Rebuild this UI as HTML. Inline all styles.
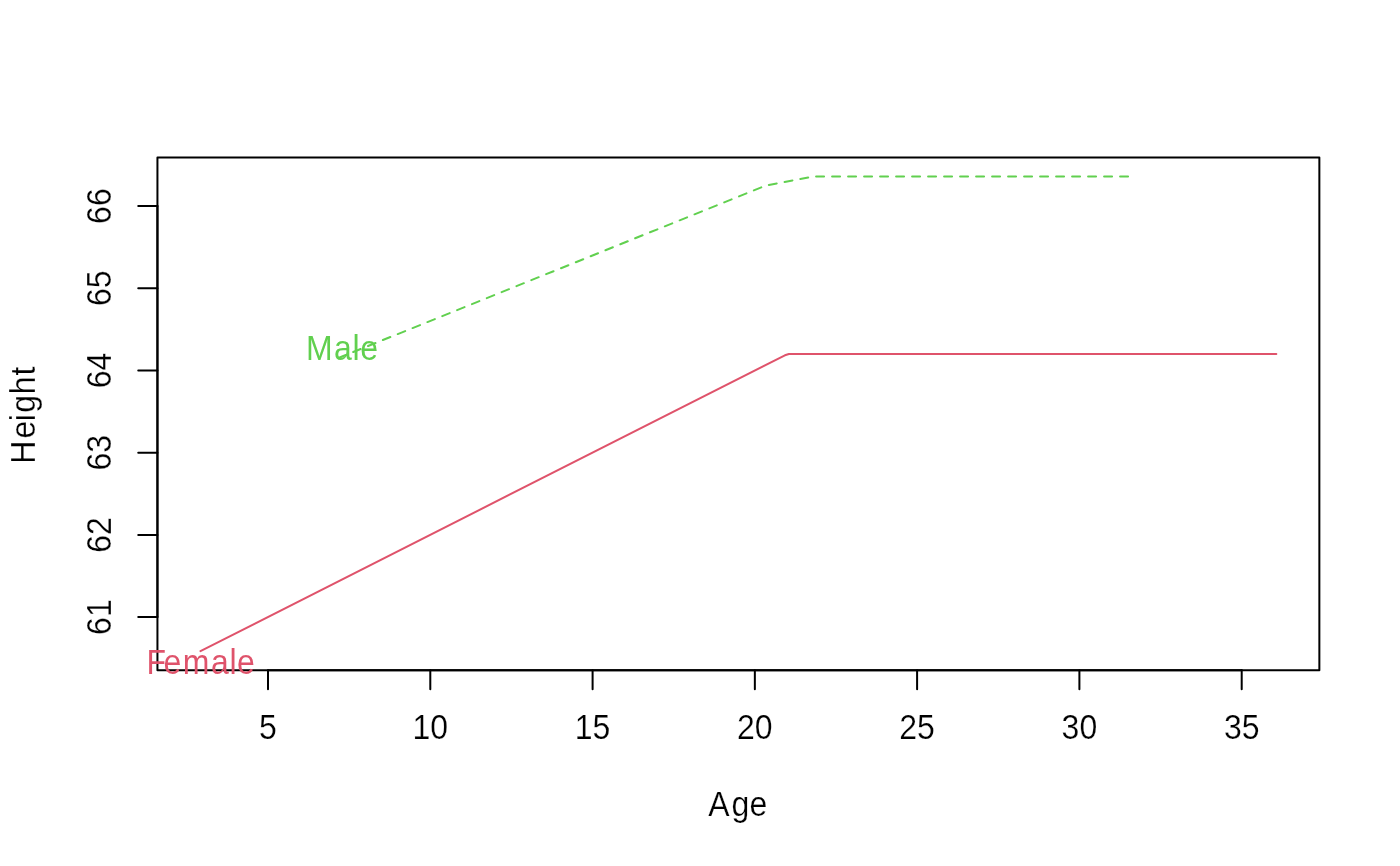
<!DOCTYPE html>
<html lang="en">
<head>
<meta charset="utf-8">
<title>Height by Age</title>
<style>
html,body{margin:0;padding:0;background:#fff;}
body{width:1400px;height:866px;overflow:hidden;}
svg{display:block;}
text{font-family:"Liberation Sans",sans-serif;font-size:32px;fill:#000;stroke:#fff;stroke-width:.22px;}
</style>
</head>
<body>
<svg style="will-change:transform" width="1400" height="866" viewBox="0 0 1400 866">
<rect x="0" y="0" width="1400" height="866" fill="#fff"/>
<defs>
<mask id="thinF" maskUnits="userSpaceOnUse" x="140" y="-40" width="130" height="60">
<text x="146.5 163.4 182.7 211 229.5 237.1" y="0" style="fill:#fff;stroke:#fff;stroke-width:1px">Female</text>
</mask>
<mask id="thinM" maskUnits="userSpaceOnUse" x="295" y="-40" width="100" height="60">
<text x="306.1 333.9 352.5 360.3" y="0" style="fill:#fff;stroke:#fff;stroke-width:1px">Male</text>
</mask>
</defs>
<!-- plot box -->
<g fill="none" stroke="#000" stroke-width="2" stroke-linecap="round" stroke-linejoin="round">
<rect x="157.44" y="157.44" width="1161.92" height="512.72"/>
<!-- x axis -->
<path d="M268 670.16H1241.7"/>
<path d="M268 670.16v19.2M430.3 670.16v19.2M592.6 670.16v19.2M754.85 670.16v19.2M917.1 670.16v19.2M1079.4 670.16v19.2M1241.7 670.16v19.2"/>
<!-- y axis -->
<path d="M157.44 617.1V206.1"/>
<path d="M157.44 617.1h-19.2M157.44 534.9h-19.2M157.44 452.7h-19.2M157.44 370.5h-19.2M157.44 288.3h-19.2M157.44 206.1h-19.2"/>
</g>
<!-- x tick labels -->
<g text-anchor="middle">
<text transform="translate(268 738.5) scale(1 1.07)">5</text>
<text transform="translate(430.3 738.5) scale(1 1.07)">10</text>
<text transform="translate(592.6 738.5) scale(1 1.07)">15</text>
<text transform="translate(754.85 738.5) scale(1 1.07)">20</text>
<text transform="translate(917.1 738.5) scale(1 1.07)">25</text>
<text transform="translate(1079.4 738.5) scale(1 1.07)">30</text>
<text transform="translate(1241.7 738.5) scale(1 1.07)">35</text>
<text text-anchor="start" transform="translate(0 815.7) scale(1 1.07)" x="708.3 731.5 749.4" y="0">Age</text>
</g>
<!-- y tick labels -->
<g text-anchor="middle">
<text transform="translate(111 617.1) rotate(-90) scale(1 1.07)">61</text>
<text transform="translate(111 534.9) rotate(-90) scale(1 1.07)">62</text>
<text transform="translate(111 452.7) rotate(-90) scale(1 1.07)">63</text>
<text transform="translate(111 370.5) rotate(-90) scale(1 1.07)">64</text>
<text transform="translate(111 288.3) rotate(-90) scale(1 1.07)">65</text>
<text transform="translate(111 206.1) rotate(-90) scale(1 1.07)">66</text>
<text text-anchor="start" transform="translate(35.3 413.8) rotate(-90) scale(1 1.07)" x="-50.01 -24.65 -7.55 1.01 19.56 38.36" y="0">Height</text>
</g>
<!-- curves -->
<g fill="none" stroke-width="2" stroke-linecap="round" stroke-linejoin="round">
<path d="M200.47 651.17L784.9 355.3L788.9 353.95H1276.33" stroke="#DF536B"/>
<path d="M338.4 358L766 185.5L814 176.43H1130" stroke="#61D04F" stroke-dasharray="8 8"/>
</g>
<g text-anchor="start">
<text mask="url(#thinF)" transform="translate(0 673.6) scale(1 1.07)" x="146.5 163.4 182.7 211 229.5 237.1" y="0" style="fill:#DF536B;stroke:none">Female</text>
<text mask="url(#thinM)" transform="translate(0 359.8) scale(1 1.07)" x="306.1 333.9 352.5 360.3" y="0" style="fill:#61D04F;stroke:none">Male</text>
</g>
</svg>
</body>
</html>
